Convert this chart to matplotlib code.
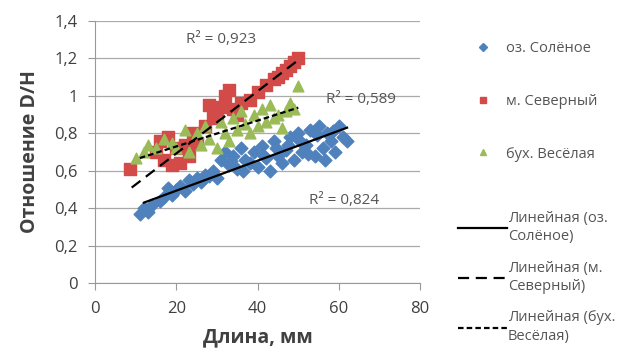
import numpy as np
import matplotlib.pyplot as plt
from matplotlib.lines import Line2D

plt.rcParams['font.family'] = ['Open Sans', 'DejaVu Sans']

# оз. Солёное
blue_x = [11, 12, 13, 14, 16, 17, 18, 19, 20, 21, 22, 23, 24, 25, 26, 27, 28, 29, 30,
          31, 32, 33, 34, 35, 36, 37, 38, 39, 40, 41, 42, 43, 44, 45, 46, 47, 48, 49,
          50, 51, 52, 53, 54, 55, 56, 57, 58, 59, 60, 61, 62,
          33.5, 36.5, 41.5, 44.5, 47.5, 50.5, 52.5, 54.5, 56.5, 58.5]
blue_y = [0.37, 0.40, 0.38, 0.42, 0.44, 0.46, 0.51, 0.47, 0.50, 0.52, 0.49, 0.55, 0.53,
          0.56, 0.54, 0.58, 0.57, 0.60, 0.56, 0.66, 0.70, 0.63, 0.68, 0.61, 0.72, 0.66,
          0.64, 0.70, 0.62, 0.73, 0.67, 0.60, 0.76, 0.68, 0.64, 0.71, 0.78, 0.66, 0.80,
          0.70, 0.74, 0.82, 0.68, 0.84, 0.72, 0.80, 0.76, 0.70, 0.84, 0.78, 0.76,
          0.65, 0.60, 0.68, 0.72, 0.74, 0.76, 0.69, 0.79, 0.66, 0.81]

# м. Северный
red_x = [8.5, 15, 16, 17, 18, 19, 20, 21, 22, 23, 24, 25, 27, 28, 29, 30, 31, 32, 33,
         34, 35, 36, 38, 40, 42, 44, 45, 46, 47, 48, 49, 50]
red_y = [0.61, 0.70, 0.76, 0.66, 0.78, 0.63, 0.72, 0.64, 0.74, 0.68, 0.80, 0.75, 0.84,
         0.95, 0.88, 0.90, 0.94, 1.00, 1.03, 0.93, 0.90, 0.96, 0.98, 1.02, 1.06, 1.09,
         1.10, 1.12, 1.14, 1.16, 1.18, 1.20]

# бух. Весёлая
green_x = [10, 12, 13, 15, 17, 19, 20, 22, 23, 25, 26, 27, 28, 30, 31, 32, 33, 34, 35,
           36, 37, 38, 39, 40, 41, 42, 43, 44, 45, 46, 47, 48, 49, 50]
green_y = [0.67, 0.70, 0.74, 0.72, 0.77, 0.75, 0.72, 0.82, 0.70, 0.80, 0.74, 0.84, 0.77,
           0.72, 0.86, 0.80, 0.76, 0.88, 0.82, 0.92, 0.85, 0.80, 0.90, 0.84, 0.93, 0.86,
           0.95, 0.88, 0.90, 0.83, 0.92, 0.96, 0.93, 1.05]

# linear trends: slope, intercept, x range
trend_k = [0.0080, 0.0166, 0.0069]
trend_b = [0.334, 0.361, 0.592]
trend_x = [(12, 62), (9, 50), (11, 50)]

r2_labels = ['R² = 0,824', 'R² = 0,923', 'R² = 0,589']
r2_pos = [(61.3, 0.44), (31.0, 1.30), (65.5, 0.98)]

yticks = [0, 0.2, 0.4, 0.6, 0.8, 1.0, 1.2, 1.4]
ytick_labels = ['0', '0,2', '0,4', '0,6', '0,8', '1', '1,2', '1,4']
xticks = [0, 20, 40, 60, 80]

c_blue = '#4F81BD'
c_red = '#D24B48'
c_green = '#9BBB59'
grey = '#404040'
lgrey = '#555555'

fig = plt.figure(figsize=(6.3, 3.54), dpi=100)
ax = fig.add_axes([0.151, 0.2, 0.516, 0.741])

ax.scatter(blue_x, blue_y, marker='D', s=42, color=c_blue, zorder=3)
ax.scatter(red_x, red_y, marker='s', s=68, color=c_red, zorder=3)
ax.scatter(green_x, green_y, marker='^', s=60, color=c_green, zorder=3)

styles = ['-', (0, (5, 3)), (0, (2.5, 1.4))]
for k, b, (x0, x1), ls in zip(trend_k, trend_b, trend_x, styles):
    xx = np.array([x0, x1])
    ax.plot(xx, k * xx + b, color='black', lw=1.6, linestyle=ls, zorder=4)

for lab, (tx, ty) in zip(r2_labels, r2_pos):
    ax.text(tx, ty, lab, fontsize=11, color=lgrey, ha='center', va='center', zorder=5)

ax.set_xlim(0, 80)
ax.set_ylim(0, 1.4)
ax.set_yticks(yticks)
ax.set_yticklabels(ytick_labels)
ax.set_xticks(xticks)
ax.tick_params(labelsize=12, colors=grey, length=5, color='#999999')
ax.tick_params(axis='x', pad=8)
ax.tick_params(axis='y', pad=7.5)
ax.yaxis.grid(True, color='#aaaaaa', lw=0.9)
ax.set_axisbelow(True)
for s in ['top', 'right']:
    ax.spines[s].set_visible(False)
for s in ['left', 'bottom']:
    ax.spines[s].set_color('#999999')

ax.set_xlabel('Длина, мм', fontsize=14, fontweight='bold', color=grey, labelpad=7)
ax.set_ylabel('Отношение D/H', fontsize=14, fontweight='bold', color=grey, labelpad=10)

mk_handles = [
    Line2D([], [], ls='none', marker='D', color=c_blue, markersize=4),
    Line2D([], [], ls='none', marker='s', color=c_red, markersize=5),
    Line2D([], [], ls='none', marker='^', color=c_green, markersize=5),
]
mk_labels = ['оз. Солёное', 'м. Северный', 'бух. Весёлая']
ln_handles = [Line2D([], [], color='black', lw=1.6, ls=ls) for ls in styles]
ln_labels = ['Линейная (оз.\nСолёное)', 'Линейная (м.\nСеверный)', 'Линейная (бух.\nВесёлая)']

leg1 = fig.legend(mk_handles, mk_labels, loc='upper left', bbox_to_anchor=(461 / 630, 0.885),
                  frameon=False, fontsize=10.5, labelspacing=2.6, handlelength=3.0,
                  handletextpad=0.1, borderpad=0, borderaxespad=0, labelcolor=lgrey)
leg2 = fig.legend(ln_handles, ln_labels, loc='upper left', bbox_to_anchor=(458 / 630, 0.405),
                  frameon=False, fontsize=10.5, labelspacing=1.1, handlelength=3.36,
                  handletextpad=0.05, borderpad=0, borderaxespad=0, labelcolor=lgrey)
for t in leg2.get_texts():
    t.set_linespacing(1.35)

fig.savefig('out.png', dpi=100)
